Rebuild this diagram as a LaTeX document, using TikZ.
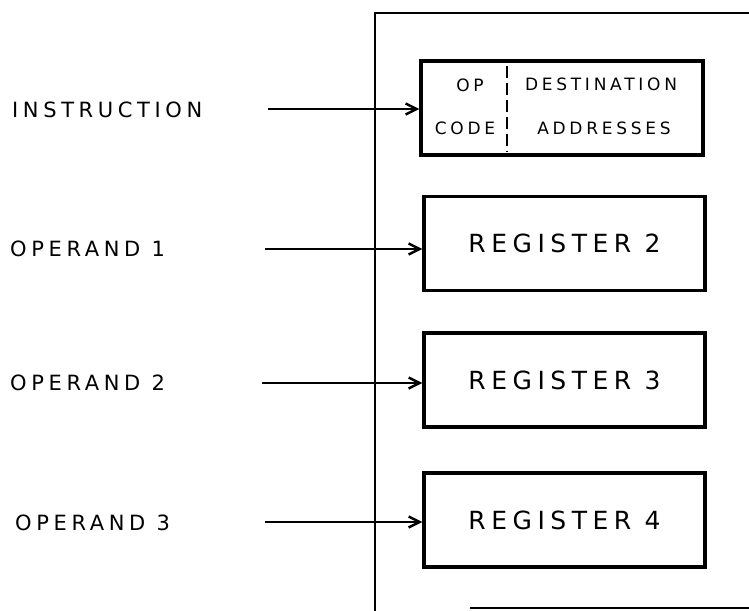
\documentclass[tikz,border=0pt]{standalone}
\usepackage{fontspec}
\newfontfamily\hand[LetterSpace=22]{DejaVu Sans}
\usetikzlibrary{arrows.meta}
\tikzset{
  regbox/.style={draw, line width=3.4pt, minimum width=281pt, minimum height=94pt, inner sep=0pt,
    font=\hand\fontsize{25}{27}\selectfont},
  lbl/.style={anchor=west, inner sep=0pt, font=\hand\fontsize{21}{23}\selectfont},
  feed/.style={line width=2.8pt, -{Straight Barb[length=11pt,width=11pt,line width=2.4pt]}},
  small/.style={inner sep=0pt, font=\hand\fontsize{17}{19}\selectfont}
}
\begin{document}
\begin{tikzpicture}[x=1pt,y=-1pt]
\useasboundingbox (0,0) rectangle (749,610);
% enclosing unit (right side runs off the picture)
\begin{scope}
\clip (0,0) rectangle (749,610);
\draw[line width=2.8pt] (765,13) -- (375,13) -- (375,612);
\draw[line width=2.8pt] (470,608) -- (765,608);
\end{scope}
% instruction register
\node[draw, line width=3.4pt, minimum width=282pt, minimum height=94pt, inner sep=0pt] (ir) at (562,108) {};
\coordinate (dtop) at (507,66);
\coordinate (dbot) at (507,152);
\draw[line width=2.4pt, dash pattern=on 12pt off 5pt] (dtop) -- (dbot);
\node[small] (op) at (470,85) {OP};
\node[small] (code) at (465,128) {CODE};
\node[small] (dest) at (601,84) {DESTINATION};
\node[small] (addr) at (604,128) {ADDRESSES};
% data registers
\node[regbox] (r2) at (564.5,243.5) {REGISTER 2};
\node[regbox] (r3) at (564.5,380) {REGISTER 3};
\node[regbox] (r4) at (564.5,520) {REGISTER 4};
% input labels
\node[lbl] (li) at (12,110) {INSTRUCTION};
\node[lbl] (l1) at (10,249) {OPERAND 1};
\node[lbl] (l2) at (10,383) {OPERAND 2};
\node[lbl] (l3) at (15,523) {OPERAND 3};
% arrow start points
\coordinate (si) at (268,109);
\coordinate (s1) at (265,249);
\coordinate (s2) at (262,383);
\coordinate (s3) at (265,522);
\draw[feed] (si) -- (si -| ir.west);
\draw[feed] (s1) -- (s1 -| r2.west);
\draw[feed] (s2) -- (s2 -| r3.west);
\draw[feed] (s3) -- (s3 -| r4.west);
\end{tikzpicture}
\end{document}
